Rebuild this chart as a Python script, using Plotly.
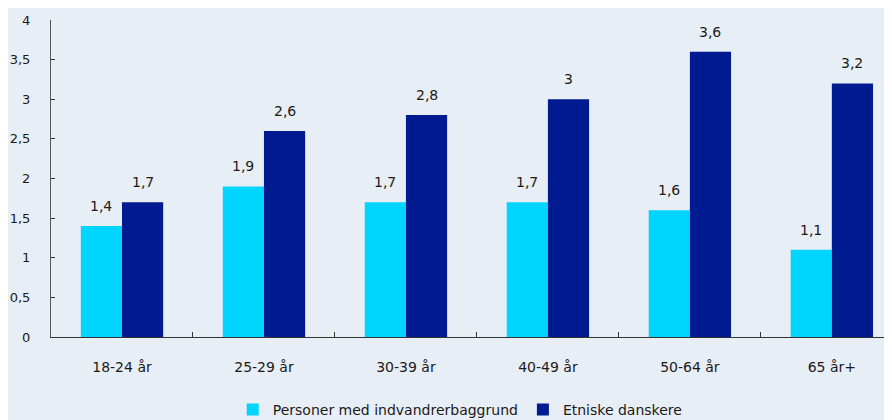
import plotly.graph_objects as go

categories = ["18-24 år", "25-29 år", "30-39 år", "40-49 år", "50-64 år", "65 år+"]
indvandrer = [1.4, 1.9, 1.7, 1.7, 1.6, 1.1]
danskere = [1.7, 2.6, 2.8, 3.0, 3.6, 3.2]
y_ticks = [0, 0.5, 1, 1.5, 2, 2.5, 3, 3.5, 4]
y_tick_labels = ["0", "0,5", "1", "1,5", "2", "2,5", "3", "3,5", "4"]

BG = "#E8EEF5"
FONT = "DejaVu Sans"
TXT = "#1A1A1A"
FS = 14

fig = go.Figure()
fig.add_trace(go.Bar(name="Personer med indvandrerbaggrund", x=categories, y=indvandrer,
                     marker=dict(color="#00D5FF", line=dict(width=0))))
fig.add_trace(go.Bar(name="Etniske danskere", x=categories, y=danskere,
                     marker=dict(color="#001A8F", line=dict(width=0))))

offset = 0.145
for i, c in enumerate(categories):
    for v, dx in ((indvandrer[i], -offset), (danskere[i], offset)):
        fig.add_annotation(x=i + dx, y=v, text=f"{v:g}".replace(".", ","), showarrow=False,
                           yanchor="bottom", yshift=10, font=dict(family=FONT, size=FS, color=TXT))

fig.update_layout(
    width=892, height=420,
    paper_bgcolor=BG, plot_bgcolor=BG,
    margin=dict(l=43, r=0, t=12, b=91, autoexpand=False),
    barmode="group", bargap=0.42, bargroupgap=0,
    font=dict(family=FONT, size=FS, color=TXT),
    separators=",.",
    legend=dict(orientation="h", x=0.482, xanchor="center", y=-0.23, yanchor="middle",
                font=dict(family=FONT, size=FS, color=TXT), itemwidth=30,
                traceorder="normal", bgcolor="rgba(0,0,0,0)"),
    showlegend=True,
)
fig.update_xaxes(range=[-0.5, 5.48], showline=True, linecolor="#333333", linewidth=1,
                 ticks="inside", tickson="boundaries", ticklen=5, tickcolor="#333333",
                 showgrid=False, ticklabelstandoff=17, automargin=False,
                 tickfont=dict(size=FS, color=TXT))
fig.update_yaxes(range=[0, 4], tickvals=y_ticks, ticktext=y_tick_labels, showline=True,
                 linecolor="#555555", linewidth=1, ticks="inside", ticklen=4, tickcolor="#333333",
                 showgrid=False, zeroline=False, ticklabelstandoff=17, automargin=False,
                 tickfont=dict(size=13, color=TXT))

fig.write_html("out.html")
